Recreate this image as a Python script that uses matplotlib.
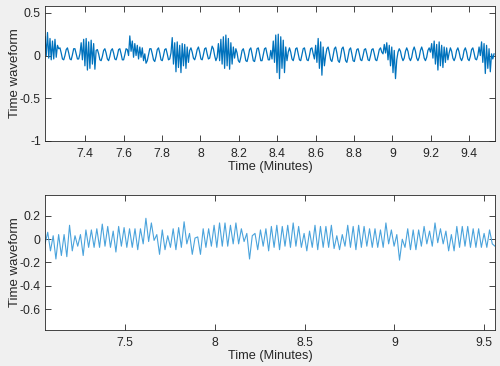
import numpy as np
import matplotlib
matplotlib.use('Agg')
import matplotlib.pyplot as plt

# Señal superior: valores, muestreo uniforme
top_start = 7.19
top_end = 9.53
top_wave = [
    # rafaga 7.19-7.26
    0.22, 0.0, 0.27, -0.03, 0.2, -0.05, 0.17, -0.04, 0.19, -0.02, 0.12,
    0.08, 0.09, 0.03, -0.04, -0.05, 0.0, 0.07, 0.09, 0.03, -0.04, -0.05, 0.01, 0.08, 0.08, 0.02, -0.04, -0.04, 0.02,
    # rafaga 7.37-7.46
    0.15, -0.05, 0.19, -0.12, 0.2, -0.17, 0.16, -0.15, 0.18, -0.1, 0.14, -0.16, 0.06,
    0.07, 0.02, -0.05, -0.06, -0.01, 0.06, 0.08, 0.03, -0.04, -0.06, -0.01, 0.06, 0.08, 0.03, -0.04, -0.05,
    0.0, 0.07, 0.08, 0.02, -0.05, -0.05, 0.01, 0.08, 0.07, 0.0,
    # rafaga 7.63-7.71
    0.23, 0.05, 0.17, -0.02, 0.14, 0.0, 0.12, -0.04, 0.1, -0.02, 0.09, -0.06, 0.02,
    -0.09, -0.06, 0.01, 0.08, 0.08, 0.02, -0.05, -0.07, -0.01, 0.07, 0.09, 0.03, -0.05, -0.06, 0.0, 0.07,
    0.08, 0.02, -0.05, -0.04, 0.03,
    # rafaga 7.85-7.95
    0.21, -0.1, 0.15, -0.19, 0.16, -0.14, 0.12, -0.2, 0.14, -0.12, 0.13, -0.15, 0.1, -0.08, 0.06,
    0.09, 0.04, -0.03, -0.05, 0.0, 0.07, 0.1, 0.04, -0.04, -0.05, 0.01, 0.08, 0.09, 0.02, -0.04, -0.03,
    0.04, 0.11, 0.08, 0.0, -0.06, -0.02,
    # rafaga 8.09-8.18
    0.14, -0.06, 0.19, -0.1, 0.22, -0.15, 0.24, -0.12, 0.2, -0.16, 0.15, -0.1, 0.1, -0.03,
    0.08, 0.03, -0.06, -0.08, -0.02, 0.06, 0.08, 0.02, -0.06, -0.07, -0.01, 0.07, 0.09, 0.02, -0.06, -0.07,
    0.0, 0.08, 0.09, 0.02, -0.06, -0.06, 0.01, 0.08, 0.09, 0.02, -0.05, -0.05,
    # rafaga 8.36-8.45
    0.06, -0.04, 0.17, -0.08, 0.24, -0.2, 0.25, -0.27, 0.22, -0.15, 0.18, -0.2, 0.1, -0.06, 0.04,
    0.09, 0.04, -0.04, -0.06, 0.0, 0.08, 0.09, 0.02, -0.05, -0.06, 0.01, 0.08, 0.09, 0.02, -0.05, -0.06,
    0.0, 0.08, 0.09, 0.02, -0.04,
    # rafaga 8.59-8.64
    0.12, -0.08, 0.2, -0.15, 0.16, -0.23, 0.1, -0.12,
    0.0, 0.08, 0.1, 0.03, -0.05, -0.07, 0.0, 0.08, 0.1, 0.03, -0.06, -0.08, -0.01, 0.08, 0.1, 0.03,
    -0.06, -0.08, -0.01, 0.07, 0.09, 0.02, -0.06, -0.07, 0.0, 0.07, 0.08, 0.02, -0.05, -0.06, 0.0, 0.07,
    0.08, 0.02, -0.05, -0.06, 0.0, 0.07, 0.08, 0.02, -0.05, -0.06, 0.0, 0.07, 0.09, 0.04, 0.02,
    # rafaga 8.95-9.02
    0.13, 0.03, 0.15, -0.05, 0.12, -0.12, 0.1, -0.2, 0.06, -0.27, -0.05,
    0.04, 0.08, 0.05, -0.02, -0.06, -0.03, 0.05, 0.09, 0.05, -0.03, -0.06, -0.02, 0.06, 0.1, 0.05, -0.03,
    -0.06, -0.02, 0.06, 0.1, 0.05, -0.03, -0.06, -0.02, 0.06, 0.09, 0.04,
    # rafaga 9.20-9.30
    0.14, -0.03, 0.17, -0.1, 0.13, -0.17, 0.16, -0.12, 0.12, -0.14, 0.1, -0.08, 0.09, -0.05, 0.03,
    0.09, 0.05, -0.03, -0.06, -0.02, 0.06, 0.09, 0.04, -0.03, -0.06, -0.02, 0.06, 0.09, 0.04, -0.04, -0.06,
    -0.01, 0.07, 0.09, 0.03, -0.04, -0.05, 0.0,
    # rafaga 9.45-9.52
    0.1, 0.0, 0.16, -0.08, 0.14, -0.21, 0.12, -0.15, 0.08, -0.19, 0.02,
    -0.04, 0.02,
]

# Señal inferior: picos y valles
bot_start = 7.053
bot_end = 9.56
bot_wave = [
    -0.04, 0.06, -0.10, 0.03, -0.17, 0.04, -0.14, 0.04, -0.15, 0.12, -0.10, 0.03, -0.06, 0.04, -0.14,
    0.08, -0.07, 0.08, -0.07, 0.09, -0.07, 0.13, -0.06, 0.11, -0.07, 0.07, -0.11, 0.11, -0.06, 0.10,
    -0.07, 0.09, -0.07, 0.09, -0.09, 0.09, -0.04, 0.18, -0.02, 0.14, -0.01, 0.04, -0.13, 0.08, -0.09,
    0.03, -0.07, 0.09, -0.09, 0.10, -0.07, 0.15, -0.04, 0.05, -0.13, 0.01, 0.02, -0.13, 0.09, -0.07,
    0.09, -0.06, 0.12, -0.07, 0.14, -0.06, 0.14, -0.06, 0.12, -0.04, 0.14, -0.04, 0.09, -0.02, 0.05,
    -0.17, 0.03,
    0.05, -0.09, 0.08, -0.06, 0.09, -0.10, 0.11, -0.07, 0.12, -0.09, 0.11, -0.06, 0.12, -0.07, 0.14,
    -0.06, 0.11, -0.07, 0.05, -0.10, 0.07, -0.07, 0.12, -0.09, 0.11, -0.07, 0.11, -0.07, 0.12, -0.08,
    0.03, -0.09, 0.04, -0.06, 0.12, -0.07, 0.11, -0.09, 0.12, -0.07, 0.11, -0.06, 0.09, -0.07, 0.09,
    -0.07, 0.08, -0.07, 0.14, -0.04, 0.08, -0.06, 0.04, -0.18, 0.00, -0.07, 0.09, -0.09, 0.08, -0.09,
    0.08, -0.06, 0.11, -0.04, 0.07, -0.06, 0.14, -0.03, 0.09, -0.04, 0.07, -0.10, 0.04, -0.10, 0.11,
    -0.07, 0.11, -0.06, 0.11, -0.07, 0.09, -0.07, 0.09, -0.07, 0.05, -0.07, 0.08, -0.04, -0.06,
]

top_xticks = [7.4, 7.6, 7.8, 8, 8.2, 8.4, 8.6, 8.8, 9, 9.2, 9.4]
top_xlabels = ['7.4', '7.6', '7.8', '8', '8.2', '8.4', '8.6', '8.8', '9', '9.2', '9.4']
top_yticks = [-1, -0.5, 0, 0.5]
top_ylabels = ['-1', '-0.5', '0', '0.5']
bot_xticks = [7.5, 8, 8.5, 9, 9.5]
bot_xlabels = ['7.5', '8', '8.5', '9', '9.5']
bot_yticks = [-0.6, -0.4, -0.2, 0, 0.2]
bot_ylabels = ['-0.6', '-0.4', '-0.2', '0', '0.2']

plt.rcParams['font.family'] = ['Liberation Sans', 'DejaVu Sans']

fig = plt.figure(figsize=(5, 3.66), dpi=100, facecolor='#f0f0f0')
ax1 = fig.add_axes([0.09, 0.6148, 0.90, 0.3688])
ax2 = fig.add_axes([0.09, 0.0984, 0.90, 0.3688])

t_top = np.linspace(top_start, top_end, len(top_wave))
t_bot = np.linspace(bot_start, bot_end, len(bot_wave))

ax1.plot(t_top, top_wave, color='#0072BD', linewidth=0.9)
ax2.plot(t_bot, bot_wave, color='#4aa3dc', linewidth=0.8)

ax1.set_xlim(7.19, 9.535)
ax1.set_ylim(-1, 0.58)
ax2.set_xlim(7.053, 9.56)
ax2.set_ylim(-0.78, 0.38)

ax1.set_xticks(top_xticks, top_xlabels)
ax1.set_yticks(top_yticks, top_ylabels)
ax2.set_xticks(bot_xticks, bot_xlabels)
ax2.set_yticks(bot_yticks, bot_ylabels)

for ax in (ax1, ax2):
    ax.set_facecolor('white')
    for s in ax.spines.values():
        s.set_color('#262626')
        s.set_linewidth(0.6)
    ax.tick_params(direction='in', length=4, width=0.6, color='#262626',
                   labelsize=8.8, labelcolor='#262626', top=True, right=True)
    ax.tick_params(axis='x', pad=5)
    ax.tick_params(axis='y', pad=3)
    ax.set_xlabel('Time (Minutes)', fontsize=9.2, color='#262626', labelpad=1)
    ax.set_ylabel('Time waveform', fontsize=9.5, color='#262626')
    ax.yaxis.set_label_coords(-0.053, 0.5)

fig.savefig('out.png', dpi=100, facecolor=fig.get_facecolor())
